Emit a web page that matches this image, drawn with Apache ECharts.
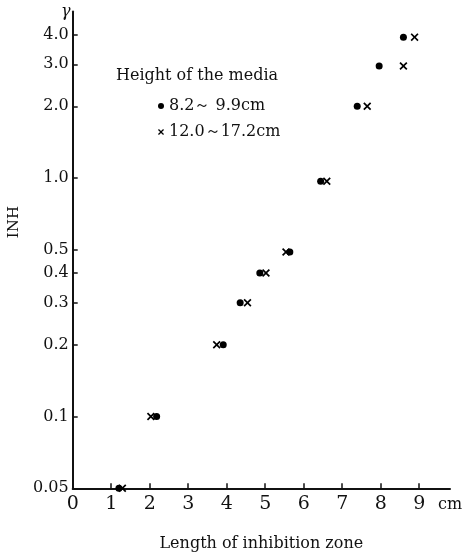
<!DOCTYPE html>
<html>
<head>
<meta charset="utf-8">
<script src="https://cdn.jsdelivr.net/npm/echarts@6/dist/echarts.min.js"></script>
<style>html,body{margin:0;padding:0;background:#fff}#c{width:462px;height:555px}</style>
</head>
<body>
<div id="c"></div>
<script>
// Data
var yValues = [0.05, 0.1, 0.2, 0.3, 0.4, 0.49, 0.97, 2.0, 2.95, 3.9];
var xLowMedia = [1.20, 2.18, 3.91, 4.35, 4.86, 5.64, 6.44, 7.39, 7.96, 8.59];
var xHighMedia = [1.29, 2.03, 3.74, 4.54, 5.02, 5.54, 6.60, 7.65, 8.59, 8.88];
var seriesNames = ['8.2\uff5e 9.9cm', '12.0\uff5e17.2cm'];
var xTickValues = [0, 1, 2, 3, 4, 5, 6, 7, 8, 9];
var yTickValues = [0.05, 0.1, 0.2, 0.3, 0.4, 0.5, 1, 2, 3, 4];
var yTickLabels = ['0.05', '0.1', '0.2', '0.3', '0.4', '0.5', '1.0', '2.0', '3.0', '4.0'];

var FONT = '"DejaVu Serif", "Liberation Serif", serif';
var crossPath = 'path://M0,1.5 L1.5,0 L5,3.5 L8.5,0 L10,1.5 L6.5,5 L10,8.5 L8.5,10 L5,6.5 L1.5,10 L0,8.5 L3.5,5 Z';

function pairs(xs, ys) { return xs.map(function (x, i) { return [x, ys[i]]; }); }
function yLabel(v) {
  var best = 0, bd = Infinity;
  for (var i = 0; i < yTickValues.length; i++) {
    var d = Math.abs(Math.log(v) - Math.log(yTickValues[i]));
    if (d < bd) { bd = d; best = i; }
  }
  return yTickLabels[best];
}

var chart = echarts.init(document.getElementById('c'));
chart.setOption({
  animation: false,
  backgroundColor: '#fff',
  title: {
    text: 'Height of the media',
    left: 111, top: 63,
    textStyle: { fontFamily: FONT, fontSize: 16, fontWeight: 'normal', color: '#111' }
  },
  legend: {
    orient: 'vertical',
    left: 153, top: 92,
    itemWidth: 6, itemHeight: 6, itemGap: 8,
    textStyle: { fontFamily: FONT, fontSize: 16, color: '#111', lineHeight: 18 },
    data: [
      { name: seriesNames[0], icon: 'circle' },
      { name: seriesNames[1], icon: crossPath }
    ]
  },
  grid: { left: 72.7, right: 12, top: 11.4, bottom: 66.7, outerBoundsMode: 'none' },
  xAxis: {
    type: 'value', min: 0, max: 9.8, interval: 1,
    name: 'Length of inhibition zone',
    nameLocation: 'middle', nameGap: 48,
    nameTextStyle: { fontFamily: FONT, fontSize: 16, color: '#111' },
    axisLine: { lineStyle: { color: '#111', width: 2 } },
    axisTick: { inside: true, length: 5, lineStyle: { color: '#111', width: 1.5 }, customValues: xTickValues.slice(1) },
    axisLabel: { fontFamily: FONT, fontSize: 19, color: '#111', margin: 6, customValues: xTickValues },
    splitLine: { show: false }
  },
  yAxis: {
    type: 'log', logBase: 10, min: 0.05, max: 5,
    axisLine: { lineStyle: { color: '#111', width: 2 } },
    axisTick: { inside: true, length: 5, lineStyle: { color: '#111', width: 1.5 }, customValues: yTickValues },
    axisLabel: { fontFamily: FONT, fontSize: 16, color: '#111', margin: 4, customValues: yTickValues, formatter: yLabel },
    minorTick: { show: false },
    splitLine: { show: false }
  },
  graphic: [
    { type: 'text', left: 61, top: 4, style: { text: '\u03b3', fontFamily: FONT, fontStyle: 'italic', fontSize: 16, fill: '#111' } },
    { type: 'text', left: 7, top: 206, rotation: Math.PI / 2, style: { text: 'INH', fontFamily: FONT, fontSize: 15, fill: '#111' } },
    { type: 'text', left: 438, top: 497, style: { text: 'cm', fontFamily: FONT, fontSize: 16, fill: '#111' } }
  ],
  series: [
    {
      name: seriesNames[0], type: 'scatter', symbol: 'circle', symbolSize: 7,
      itemStyle: { color: '#000', opacity: 1 },
      data: pairs(xLowMedia, yValues)
    },
    {
      name: seriesNames[1], type: 'scatter', symbol: crossPath, symbolSize: 8,
      itemStyle: { color: '#000', opacity: 1 },
      data: pairs(xHighMedia, yValues)
    }
  ]
});
</script>
</body>
</html>
